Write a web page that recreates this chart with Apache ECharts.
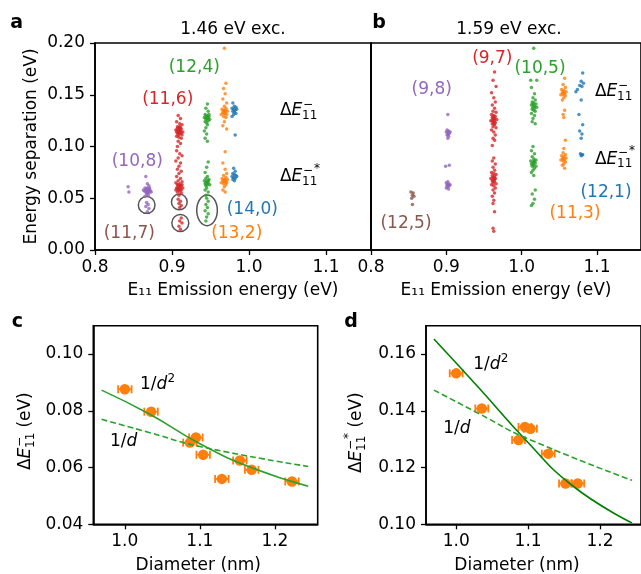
<!DOCTYPE html>
<html>
<head>
<meta charset="utf-8">
<script src="https://cdn.jsdelivr.net/npm/echarts@6/dist/echarts.min.js"></script>
<style>
  html, body { margin: 0; padding: 0; background: #fff; }
  #chart { width: 641px; height: 574px; }
</style>
</head>
<body>
<div id="chart"></div>
<script>
// panel a, 1.46 eV excitation: [E11 emission (eV), energy separation (eV)]
const a108 = [[0.866,0.071],[0.868,0.064],[0.870,0.062],[0.865,0.060],[0.867,0.059],[0.869,0.058],[0.871,0.058],[0.864,0.057],[0.866,0.056],[0.868,0.056],[0.870,0.055],[0.872,0.057],[0.867,0.054],[0.869,0.053],[0.865,0.052],[0.871,0.060],[0.863,0.058],[0.873,0.056],[0.868,0.060],[0.866,0.058],
  [0.867,0.057],[0.869,0.056],[0.870,0.059],[0.868,0.055],[0.843,0.061],[0.844,0.056],[0.867,0.046],[0.869,0.044],[0.866,0.042],[0.870,0.040],[0.868,0.037]];
const a116 = [[0.908,0.130],[0.911,0.127],[0.906,0.124],[0.910,0.122],[0.913,0.121],[0.907,0.119],[0.909,0.118],[0.912,0.117],[0.905,0.116],[0.908,0.115],[0.911,0.115],[0.914,0.114],[0.907,0.113],[0.910,0.112],[0.913,0.111],[0.906,0.110],[0.909,0.109],[0.912,0.108],[0.908,0.105],[0.911,0.103],[0.907,0.100],[0.910,0.119],[0.909,0.113],
  [0.909,0.116],[0.911,0.118],[0.907,0.117],[0.910,0.114],[0.912,0.113],[0.908,0.111],[0.910,0.116],[0.906,0.114],
  [0.906,0.096],[0.910,0.093],[0.913,0.091],[0.908,0.089],[0.905,0.086],[0.911,0.084],[0.909,0.081],[0.907,0.078],[0.912,0.076],
  [0.909,0.074],[0.906,0.071],[0.911,0.069],[0.908,0.067],[0.913,0.066],[0.905,0.065],[0.910,0.064],[0.907,0.063],[0.912,0.062],[0.909,0.061],[0.906,0.060],[0.911,0.059],[0.914,0.060],[0.908,0.058],[0.910,0.057],[0.907,0.056],[0.912,0.055],[0.909,0.053],[0.905,0.058],[0.913,0.063],
  [0.910,0.062],[0.908,0.063],[0.911,0.061],[0.909,0.059],[0.907,0.060],[0.912,0.058],
  [0.908,0.049],[0.911,0.047],[0.909,0.045],[0.912,0.043],[0.910,0.041],[0.912,0.031],[0.910,0.028],[0.913,0.026],[0.909,0.023],[0.911,0.020]];
const a124 = [[0.946,0.141],[0.944,0.137],[0.947,0.134],[0.943,0.131],[0.945,0.130],[0.948,0.129],[0.942,0.128],[0.946,0.127],[0.944,0.126],[0.947,0.125],[0.949,0.126],[0.943,0.124],[0.945,0.123],[0.946,0.121],[0.944,0.118],[0.942,0.115],[0.945,0.112],[0.943,0.108],[0.946,0.105],[0.948,0.131],
  [0.945,0.127],[0.946,0.129],[0.944,0.128],[0.947,0.127],
  [0.947,0.085],[0.945,0.080],[0.943,0.075],[0.946,0.071],[0.944,0.069],[0.948,0.068],[0.942,0.067],[0.945,0.066],[0.947,0.065],[0.943,0.064],[0.946,0.063],[0.944,0.062],[0.949,0.063],[0.945,0.060],[0.943,0.058],[0.947,0.056],[0.944,0.053],
  [0.945,0.064],[0.946,0.066],[0.944,0.065],[0.947,0.067],
  [0.945,0.050],[0.947,0.047],[0.944,0.044],[0.946,0.041],[0.943,0.038],[0.947,0.035],[0.945,0.032],[0.944,0.028]];
const a132 = [[0.968,0.195],[0.970,0.161],[0.967,0.156],[0.969,0.151],[0.966,0.146],[0.971,0.142],[0.968,0.139],[0.970,0.137],[0.965,0.136],[0.967,0.135],[0.969,0.134],[0.972,0.134],[0.966,0.133],[0.968,0.132],[0.971,0.131],[0.964,0.131],[0.967,0.129],[0.970,0.128],[0.968,0.124],[0.966,0.120],[0.971,0.117],[0.969,0.095],
  [0.968,0.134],[0.969,0.132],[0.967,0.133],[0.970,0.135],
  [0.966,0.084],[0.969,0.078],[0.971,0.074],[0.967,0.072],[0.970,0.070],[0.965,0.069],[0.968,0.068],[0.972,0.068],[0.966,0.067],[0.969,0.066],[0.971,0.065],[0.967,0.064],[0.970,0.063],[0.964,0.065],[0.968,0.061],[0.966,0.058],[0.969,0.056],
  [0.968,0.066],[0.969,0.068],[0.967,0.067],[0.970,0.066]];
const a140 = [[0.979,0.142],[0.981,0.139],[0.983,0.138],[0.978,0.137],[0.980,0.136],[0.982,0.135],[0.984,0.136],[0.979,0.134],[0.981,0.133],[0.983,0.132],[0.980,0.131],[0.978,0.129],[0.982,0.111],
  [0.980,0.079],[0.982,0.076],[0.979,0.074],[0.981,0.073],[0.983,0.072],[0.978,0.071],[0.980,0.070],[0.982,0.069],[0.984,0.071],[0.979,0.068],[0.981,0.067]];

// panel a, circled groups: [x, y, half width, half height] in data units
const circled = [[0.8671,0.0435,0.0108,0.0081],[0.9095,0.0464,0.0102,0.0076],[0.9108,0.0261,0.0110,0.0082],[0.9455,0.0383,0.0134,0.0148]];

// panel b, 1.59 eV excitation
const b125 = [[0.853,0.056],[0.856,0.055],[0.855,0.053],[0.857,0.052],[0.854,0.050],[0.855,0.044]];
const b98 = [[0.902,0.131],[0.901,0.116],[0.903,0.115],[0.900,0.114],[0.904,0.113],[0.902,0.112],[0.901,0.111],[0.903,0.110],[0.905,0.114],[0.902,0.108],[0.902,0.114],[0.903,0.112],
  [0.899,0.081],[0.904,0.082],[0.902,0.066],[0.900,0.065],[0.903,0.064],[0.901,0.063],[0.904,0.062],[0.902,0.061],[0.900,0.060],[0.903,0.059],[0.905,0.063],[0.902,0.063],[0.901,0.062]];
const b97 = [[0.964,0.172],[0.962,0.164],[0.966,0.158],[0.960,0.152],[0.963,0.147],[0.965,0.143],[0.961,0.140],[0.964,0.137],[0.962,0.134],[0.966,0.133],[0.960,0.131],[0.963,0.130],[0.965,0.129],[0.961,0.128],[0.964,0.127],[0.962,0.126],[0.967,0.126],[0.959,0.125],[0.963,0.124],[0.965,0.123],[0.961,0.122],[0.964,0.121],[0.962,0.119],[0.966,0.118],[0.960,0.116],[0.963,0.114],[0.965,0.111],[0.962,0.108],[0.964,0.106],[0.961,0.101],
  [0.963,0.127],[0.962,0.129],[0.964,0.125],[0.963,0.122],[0.961,0.125],
  [0.963,0.089],[0.961,0.086],[0.965,0.083],[0.962,0.080],[0.964,0.077],[0.960,0.075],[0.963,0.074],[0.966,0.073],[0.961,0.072],[0.964,0.071],[0.962,0.070],[0.959,0.069],[0.965,0.069],[0.963,0.068],[0.961,0.067],[0.964,0.066],[0.962,0.065],[0.966,0.064],[0.960,0.063],[0.963,0.062],[0.965,0.060],[0.962,0.058],[0.964,0.055],[0.961,0.052],[0.963,0.048],[0.962,0.045],[0.964,0.037],[0.962,0.021],[0.963,0.018],
  [0.963,0.070],[0.962,0.067],[0.964,0.068]];
const b105 = [[1.016,0.195],[1.012,0.164],[1.020,0.164],[1.013,0.157],[1.017,0.151],[1.015,0.147],[1.018,0.145],[1.014,0.143],[1.016,0.142],[1.019,0.141],[1.013,0.140],[1.017,0.139],[1.015,0.138],[1.020,0.138],[1.014,0.136],[1.016,0.135],[1.018,0.134],[1.013,0.132],[1.017,0.130],[1.015,0.127],[1.014,0.124],[1.018,0.122],
  [1.016,0.140],[1.015,0.141],[1.017,0.137],
  [1.015,0.100],[1.013,0.096],[1.017,0.093],[1.014,0.090],[1.016,0.088],[1.019,0.087],[1.012,0.086],[1.015,0.085],[1.018,0.084],[1.013,0.083],[1.016,0.082],[1.014,0.081],[1.019,0.081],[1.017,0.079],[1.015,0.077],[1.013,0.075],[1.016,0.072],[1.018,0.058],[1.014,0.054],[1.017,0.049],[1.015,0.045],[1.013,0.043],
  [1.016,0.085],[1.015,0.083],[1.017,0.086]];
const b113 = [[1.057,0.166],[1.055,0.160],[1.058,0.157],[1.053,0.155],[1.056,0.154],[1.059,0.153],[1.054,0.152],[1.057,0.151],[1.055,0.150],[1.052,0.150],[1.058,0.149],[1.056,0.147],[1.054,0.145],[1.057,0.135],[1.055,0.131],[1.056,0.128],[1.058,0.106],
  [1.056,0.152],[1.055,0.153],
  [1.056,0.098],[1.055,0.094],[1.058,0.092],[1.053,0.091],[1.056,0.090],[1.059,0.089],[1.054,0.088],[1.057,0.087],[1.055,0.086],[1.052,0.087],[1.058,0.085],[1.056,0.083],[1.054,0.082],[1.057,0.079],
  [1.056,0.088],[1.055,0.089]];
const b121 = [[1.081,0.171],[1.079,0.163],[1.082,0.161],[1.077,0.159],[1.080,0.158],[1.074,0.155],[1.072,0.153],[1.079,0.145],[1.076,0.131],[1.081,0.121],[1.077,0.115],[1.080,0.112],[1.079,0.108],
  [1.078,0.093],[1.080,0.092],[1.079,0.091],[1.081,0.092]];

// panel c: diameter (nm), dE11- (eV)
const cDiam = [1.0, 1.035, 1.0867, 1.0947, 1.1044, 1.1293, 1.1533, 1.169, 1.2227];
const cVal = [0.0876, 0.0797, 0.0688, 0.0706, 0.0645, 0.0560, 0.0625, 0.0592, 0.0551];
const cFitD2 = [[0.969,0.0873],[1.0333,0.0788],[1.1,0.0684],[1.1667,0.0602],[1.2444,0.0534]];
const cFitD = [[0.969,0.0770],[1.0333,0.0723],[1.1,0.0674],[1.2444,0.0604]];

// panel d: diameter (nm), dE11-* (eV)
const dDiam = [1.0, 1.0356, 1.0867, 1.0956, 1.1032, 1.128, 1.152, 1.169];
const dVal = [0.1532, 0.1408, 0.1297, 0.1343, 0.1337, 0.1249, 0.1144, 0.1144];
const dFitD2 = [[0.969,0.1653],[1.0333,0.1476],[1.0956,0.1300],[1.1622,0.1135],[1.2444,0.1005]];
const dFitD = [[0.969,0.1473],[1.0333,0.1388],[1.0956,0.1306],[1.2444,0.1155]];

const diamErr = 0.009;

const FONT = '"DejaVu Sans", sans-serif';
const FS = 17;
const C = { blue: '#1f77b4', orange: '#ff7f0e', green: '#2ca02c', red: '#d62728', purple: '#9467bd', brown: '#8c564b' };

const chart = echarts.init(document.getElementById('chart'), null, { renderer: 'canvas' });

function xAx(grid, min, max, ticks, name) {
  return {
    type: 'value', gridIndex: grid, min: min, max: max,
    name: name || '', nameLocation: 'middle', nameGap: 32,
    nameTextStyle: { color: '#000', fontSize: FS, fontFamily: FONT },
    axisLine: { show: true, onZero: false, lineStyle: { color: '#000', width: 1.6 } },
    axisTick: { show: true, length: 5, customValues: ticks, lineStyle: { color: '#000', width: 1.3 } },
    axisLabel: { color: '#000', fontSize: FS, fontFamily: FONT, margin: 9, customValues: ticks, formatter: v => v.toFixed(1) },
    splitLine: { show: false }
  };
}
function yAx(grid, min, max, ticks, hide) {
  return {
    type: 'value', gridIndex: grid, min: min, max: max,
    axisLine: { show: true, onZero: false, lineStyle: { color: '#000', width: 1.6 } },
    axisTick: { show: !hide, length: 5, customValues: ticks, lineStyle: { color: '#000', width: 1.3 } },
    axisLabel: { show: !hide, color: '#000', fontSize: FS, fontFamily: FONT, margin: 10, customValues: ticks, formatter: v => v.toFixed(2) },
    splitLine: { show: false }
  };
}
function cloud(grid, data, color) {
  return { type: 'scatter', xAxisIndex: grid, yAxisIndex: grid, data: data, symbolSize: 3.5, silent: true,
    itemStyle: { color: color, opacity: 0.8 } };
}
function fit(grid, data, color, dashed) {
  return { type: 'line', xAxisIndex: grid, yAxisIndex: grid, data: data, smooth: 0.5, showSymbol: false, silent: true,
    lineStyle: { color: color, width: 1.6, type: dashed ? [6, 3] : 'solid' } };
}
function errBars(grid, xs, ys) {
  return {
    type: 'custom', xAxisIndex: grid, yAxisIndex: grid, silent: true,
    data: xs.map((x, i) => [x, ys[i], diamErr]),
    encode: { x: 0, y: 1 },
    renderItem: (params, api) => {
      const x = api.value(0), y = api.value(1), e = api.value(2);
      const l = api.coord([x - e, y]), r = api.coord([x + e, y]);
      const st = { stroke: C.orange, lineWidth: 1.8 };
      return { type: 'group', children: [
        { type: 'line', shape: { x1: l[0], y1: l[1], x2: r[0], y2: r[1] }, style: st },
        { type: 'line', shape: { x1: l[0], y1: l[1] - 4, x2: l[0], y2: l[1] + 4 }, style: st },
        { type: 'line', shape: { x1: r[0], y1: r[1] - 4, x2: r[0], y2: r[1] + 4 }, style: st }
      ] };
    }
  };
}
function dots(grid, xs, ys) {
  return { type: 'scatter', xAxisIndex: grid, yAxisIndex: grid, silent: true,
    data: xs.map((x, i) => [x, ys[i]]), symbolSize: 10.5, itemStyle: { color: C.orange, opacity: 1 } };
}

// text helpers
function txt(x, y, text, color, opt) {
  opt = opt || {};
  return { type: 'text', x: x, y: y, rotation: opt.rot || 0,
    style: { text: text, fill: color || '#000', font: (opt.bold ? 'bold ' : '') + (opt.size || FS) + 'px ' + FONT,
      align: opt.align || 'center', verticalAlign: 'middle' } };
}
function math(x, y, pieces, rot) {
  return { type: 'group', x: x, y: y, rotation: rot || 0,
    children: pieces.map(p => ({ type: 'text', x: p[1], y: p[2],
      style: { text: p[0], fill: '#000', font: (p[4] ? 'italic ' : '') + p[3] + 'px ' + FONT, align: 'left', verticalAlign: 'middle' } })) };
}
function deltaE(star, tail) {
  const p = [['Δ', 0, 0, FS], ['E', 11.6, 0, FS, true], ['11', 22, 5, 12], ['−', 23, -6, 12]];
  if (star) p.push(['*', 34, -8, 12]);
  if (tail) p.push([tail, star ? 40 : 37, 0, FS]);
  return p;
}
const invD2 = [['1/', 0, 0, FS], ['d', 16.5, 0, FS, true], ['2', 27.5, -6, 12]];
const invD = [['1/', 0, 0, FS], ['d', 16.5, 0, FS, true]];

chart.setOption({
  animation: false,
  backgroundColor: '#fff',
  grid: [
    { left: 95, top: 43, width: 276, height: 207, show: true, borderColor: '#000', borderWidth: 1.6, backgroundColor: 'transparent' },
    { left: 371, top: 43, width: 276, height: 207, show: true, borderColor: '#000', borderWidth: 1.6, backgroundColor: 'transparent' },
    { left: 93.3, top: 325.7, width: 224.4, height: 198.6, show: true, borderColor: '#000', borderWidth: 1.6, backgroundColor: 'transparent' },
    { left: 426, top: 325.7, width: 224.4, height: 198.6, show: true, borderColor: '#000', borderWidth: 1.6, backgroundColor: 'transparent' }
  ],
  xAxis: [
    xAx(0, 0.8, 1.1584, [0.8, 0.9, 1.0, 1.1], 'E₁₁ Emission energy (eV)'),
    xAx(1, 0.8, 1.1584, [0.8, 0.9, 1.0, 1.1], 'E₁₁ Emission energy (eV)'),
    xAx(2, 0.958, 1.257, [1.0, 1.1, 1.2]),
    xAx(3, 0.958, 1.257, [1.0, 1.1, 1.2])
  ],
  yAxis: [
    yAx(0, 0, 0.2, [0, 0.05, 0.1, 0.15, 0.2]),
    yAx(1, 0, 0.2, [0, 0.05, 0.1, 0.15, 0.2], true),
    yAx(2, 0.04, 0.11, [0.04, 0.06, 0.08, 0.10]),
    yAx(3, 0.10, 0.17, [0.10, 0.12, 0.14, 0.16])
  ],
  series: [
    cloud(0, a108, C.purple), cloud(0, a116, C.red), cloud(0, a124, C.green), cloud(0, a132, C.orange), cloud(0, a140, C.blue),
    {
      type: 'custom', xAxisIndex: 0, yAxisIndex: 0, silent: true, data: circled, encode: { x: 0, y: 1 },
      renderItem: (params, api) => {
        const c = api.coord([api.value(0), api.value(1)]);
        const s = api.size([api.value(2), api.value(3)]);
        return { type: 'ellipse', shape: { cx: c[0], cy: c[1], rx: s[0], ry: s[1] },
          style: { fill: 'none', stroke: '#555', lineWidth: 1.5 } };
      }
    },
    cloud(1, b125, C.brown), cloud(1, b98, C.purple), cloud(1, b97, C.red), cloud(1, b105, C.green), cloud(1, b113, C.orange), cloud(1, b121, C.blue),
    fit(2, cFitD2, C.green, false), fit(2, cFitD, C.green, true),
    errBars(2, cDiam, cVal), dots(2, cDiam, cVal),
    fit(3, dFitD2, '#008000', false), fit(3, dFitD, C.green, true),
    errBars(3, dDiam, dVal), dots(3, dDiam, dVal)
  ],
  graphic: { elements: [
    txt(16.7, 23, 'a', '#000', { bold: true, size: 19 }),
    txt(379, 23, 'b', '#000', { bold: true, size: 19 }),
    txt(17.5, 322.5, 'c', '#000', { bold: true, size: 19 }),
    txt(351, 322, 'd', '#000', { bold: true, size: 19 }),
    txt(233, 30, '1.46 eV exc.'),
    txt(509, 30, '1.59 eV exc.'),
    txt(32, 146.5, 'Energy separation (eV)', '#000', { rot: Math.PI / 2 }),
    txt(198.3, 565.5, 'Diameter (nm)'),
    txt(517, 565.5, 'Diameter (nm)'),
    // chirality labels, panel a
    txt(194.3, 67.3, '(12,4)', C.green), txt(167.7, 99.3, '(11,6)', C.red), txt(137.3, 161.7, '(10,8)', C.purple),
    txt(129.3, 234, '(11,7)', C.brown), txt(252.3, 210, '(14,0)', C.blue), txt(236.7, 234, '(13,2)', C.orange),
    // chirality labels, panel b
    txt(492.3, 58.3, '(9,7)', C.red), txt(540, 68.3, '(10,5)', C.green), txt(431.7, 89.3, '(9,8)', C.purple),
    txt(406, 224, '(12,5)', C.brown), txt(606, 192.7, '(12,1)', C.blue), txt(575, 213.3, '(11,3)', C.orange),
    math(280, 111, deltaE(false)), math(280, 176.7, deltaE(true)),
    math(595, 91.7, deltaE(false)), math(595, 159.3, deltaE(true)),
    math(26, 470, deltaE(false, ' (eV)'), Math.PI / 2),
    math(357, 473, deltaE(true, ' (eV)'), Math.PI / 2),
    math(140, 385, invD2), math(110, 441.7, invD),
    math(473.3, 365, invD2), math(443.3, 428.3, invD)
  ] }
});
</script>
</body>
</html>
